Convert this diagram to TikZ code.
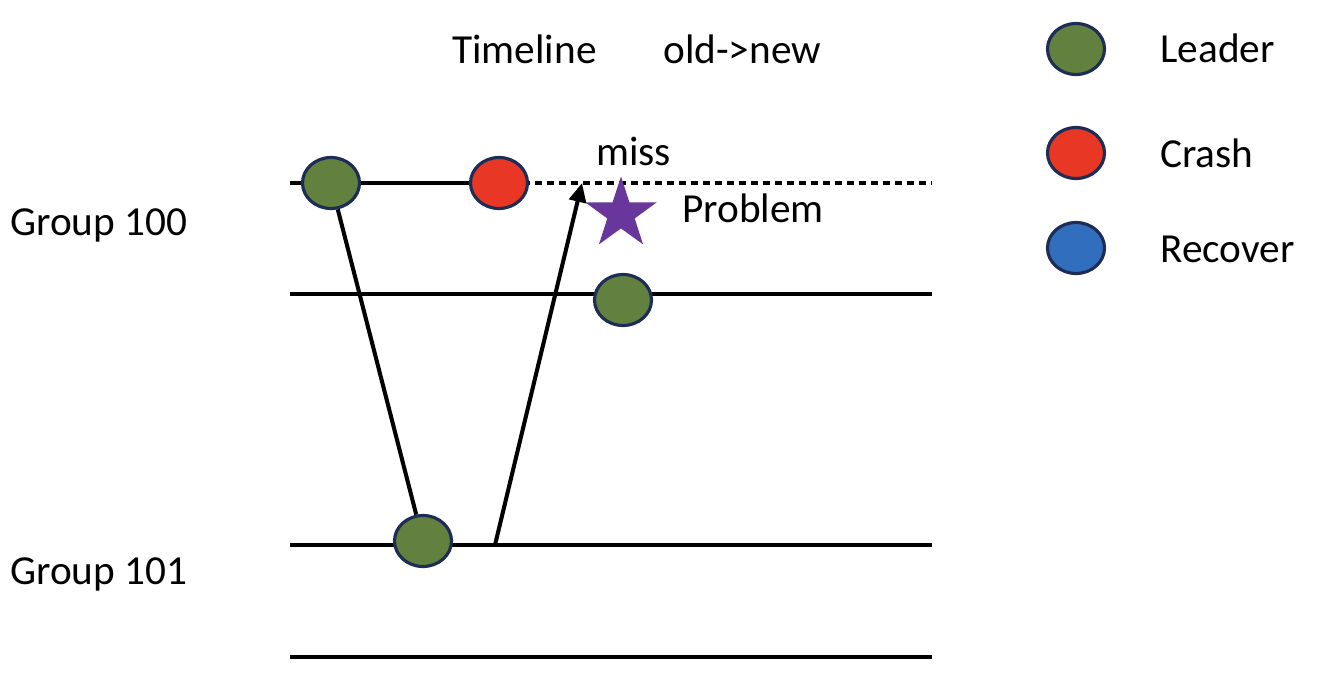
\documentclass[tikz,border=0pt]{standalone}
\usepackage{fontspec}
\setmainfont{Carlito}
\usetikzlibrary{shapes.geometric,arrows.meta}
\definecolor{leadgreen}{RGB}{98,128,62}
\definecolor{crashred}{RGB}{232,55,36}
\definecolor{recoverblue}{RGB}{50,110,190}
\definecolor{rim}{RGB}{30,45,85}
\definecolor{starpurple}{RGB}{105,55,155}
\tikzset{
  dot/.style={ellipse,draw=rim,line width=1.8pt,minimum width=1.14cm,minimum height=1.02cm,inner sep=0pt},
  lbl/.style={anchor=base west,inner sep=0pt,font=\fontsize{23.5}{28}\selectfont},
  track/.style={line width=2.3pt}
}
\begin{document}
\begin{tikzpicture}[x=0.02cm,y=-0.02cm]
\useasboundingbox (0,0) rectangle (1330,690);
% time lines
\coordinate (a0) at (290,183); \coordinate (a1) at (932,183);
\coordinate (b0) at (290,294); \coordinate (b1) at (932,294);
\coordinate (c0) at (290,545); \coordinate (c1) at (932,545);
\coordinate (d0) at (290,657); \coordinate (d1) at (932,657);
\coordinate (send) at (495,545); \coordinate (hit) at (582,183);
\draw[track] (a0) -- (499,183);
\draw[track,dash pattern=on 0.15cm off 0.09cm] (499,183) -- (a1);
\draw[track] (b0) -- (b1);
\draw[track] (c0) -- (c1);
\draw[track] (d0) -- (d1);
% events
\node[dot,fill=leadgreen] (g1) at (331,183) {};
\node[dot,fill=crashred] (r1) at (499,183) {};
\node[dot,fill=leadgreen] (g2) at (623,300) {};
\node[dot,fill=leadgreen] (g3) at (423,541) {};
\node[star,star points=5,star point ratio=2.6,minimum size=1.5cm,inner sep=0pt,fill=starpurple] (prob) at (621,214) {};
\draw[track] (g1) -- (g3);
\draw[track,-{Triangle[length=0.38cm,width=0.34cm]}] (send) -- (hit);
% texts
\node[lbl] (tl) at (452,63) {Timeline};
\node[lbl] (dir) at (663,63) {old->new};
\node[lbl] (miss) at (596,165) {miss};
\node[lbl] (pr) at (682,222) {Problem};
\node[lbl] (gA) at (10,235) {Group 100};
\node[lbl] (gB) at (10,584) {Group 101};
% legend
\node[dot,fill=leadgreen] (kl) at (1076,49) {};
\node[dot,fill=crashred] (kc) at (1076,153) {};
\node[dot,fill=recoverblue] (kr) at (1076,248) {};
\node[lbl] (tlead) at (1160,62) {Leader};
\node[lbl] (tcrash) at (1160,167) {Crash};
\node[lbl] (trec) at (1160,262) {Recover};
\end{tikzpicture}
\end{document}
